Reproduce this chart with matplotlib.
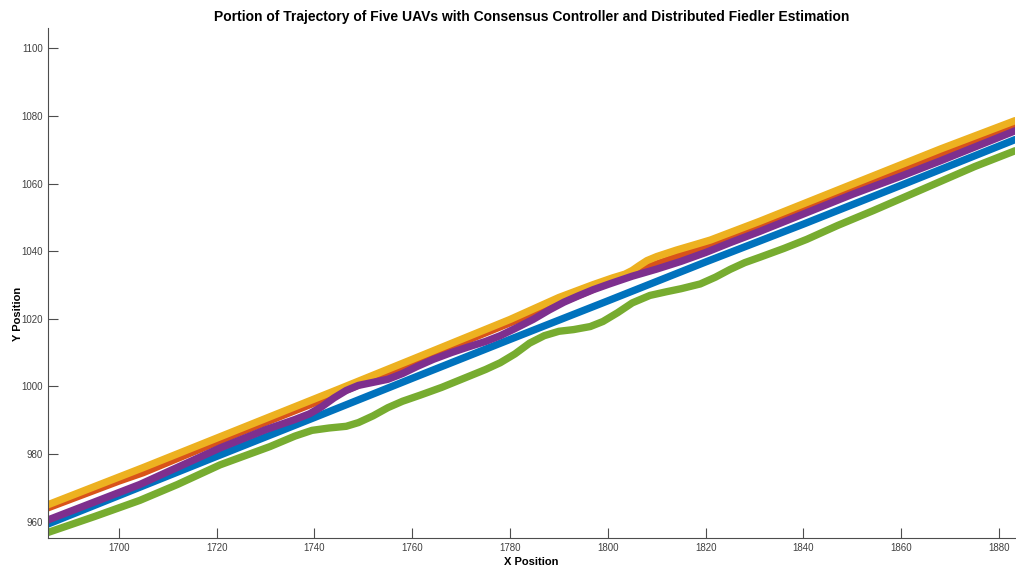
import matplotlib
matplotlib.use("Agg")
import matplotlib.pyplot as plt

plt.rcParams["font.family"] = ["Liberation Sans", "DejaVu Sans"]

# UAV trajectories
uav1_x = [1685.5, 1700, 1720, 1740, 1760, 1780, 1800, 1820, 1840, 1860, 1883.3]
uav1_y = [959.3, 967.7, 979.3, 990.8, 1002.4, 1013.9, 1025.3, 1036.8, 1048.0, 1059.5, 1073.0]

uav2_x = [1685.5, 1700, 1705, 1725, 1745, 1760, 1780, 1795, 1800, 1805, 1810, 1815, 1820, 1825, 1831,
          1850, 1868, 1883.3]
uav2_y = [964.1, 972.0, 974.5, 986.5, 998.0, 1007.0, 1018.8, 1027.5, 1030.6, 1033.5, 1036.2, 1038.8,
          1041.4, 1044.2, 1047.6, 1058.5, 1068.4, 1077.1]

uav3_x = [1685.5, 1705, 1725, 1745, 1760, 1780, 1790, 1797, 1801, 1803.5, 1805, 1806.5, 1808, 1810,
          1814, 1818, 1821, 1825, 1831, 1850, 1868, 1883.3]
uav3_y = [965.0, 976.0, 987.6, 999.2, 1008.0, 1019.8, 1026.3, 1030.1, 1032.1, 1033.2, 1034.3, 1035.8,
          1037.2, 1038.4, 1040.3, 1042.0, 1043.3, 1045.5, 1048.8, 1059.8, 1070.2, 1078.6]

uav4_x = [1685.5, 1704.3, 1720.7, 1730, 1736, 1739, 1741.5, 1744, 1746.5, 1749, 1752, 1755, 1758, 1761,
          1764.3, 1768, 1771.1, 1775, 1778, 1781, 1784.7, 1788, 1791, 1794, 1797, 1800.5, 1805, 1810,
          1815, 1820, 1825, 1831, 1840, 1850, 1860, 1868, 1883.3]
uav4_y = [960.5, 971.0, 981.8, 987.2, 990.2, 991.9, 994.0, 996.6, 998.8, 1000.3, 1001.2, 1002.1, 1003.8,
          1005.9, 1008.0, 1010.0, 1011.5, 1013.3, 1015.0, 1017.1, 1019.8, 1022.6, 1024.9, 1026.8, 1028.6,
          1030.4, 1032.6, 1034.7, 1037.0, 1039.6, 1042.5, 1045.8, 1051.0, 1056.8, 1062.2, 1066.7, 1075.6]

uav5_x = [1685.5, 1695, 1704.3, 1712, 1720.7, 1730.9, 1736, 1739.5, 1743, 1746.5, 1749, 1752, 1755, 1758,
          1761.6, 1766, 1771.1, 1775, 1778, 1781, 1784, 1787, 1790, 1793, 1796.4, 1799, 1802, 1805,
          1808.6, 1812, 1815, 1818.9, 1822, 1825, 1828, 1831.1, 1836, 1840.7, 1847, 1854.3, 1861, 1868,
          1875, 1883.3]
uav5_y = [956.8, 961.5, 966.3, 971.0, 976.8, 982.2, 985.3, 987.0, 987.7, 988.2, 989.3, 991.3, 993.7,
          995.6, 997.4, 999.7, 1002.7, 1005.0, 1007.0, 1009.6, 1012.8, 1015.0, 1016.3, 1016.8, 1017.7,
          1019.2, 1021.8, 1024.7, 1026.9, 1028.0, 1028.9, 1030.3, 1032.3, 1034.6, 1036.6, 1038.2, 1040.8,
          1043.5, 1047.6, 1052.0, 1056.2, 1060.6, 1065.0, 1069.7]

colors = ["#0072BD", "#D95319", "#EDB120", "#7E2F8E", "#77AC30"]

x_ticks = list(range(1700, 1881, 20))
y_ticks = list(range(960, 1101, 20))

fig = plt.figure(figsize=(10.16, 5.71), dpi=100)
ax = fig.add_axes([0.0472, 0.058, 0.952, 0.893])

trajs = [(uav1_x, uav1_y), (uav2_x, uav2_y), (uav3_x, uav3_y), (uav4_x, uav4_y), (uav5_x, uav5_y)]
for (xs, ys), c in zip(trajs, colors):
    ax.plot(xs, ys, color=c, linewidth=5.3, solid_capstyle="round", solid_joinstyle="round")

ax.set_xlim(1685.5, 1883.3)
ax.set_ylim(955.2, 1106)
ax.set_xticks(x_ticks)
ax.set_yticks(y_ticks)

for side in ["top", "right"]:
    ax.spines[side].set_visible(False)
for side in ["left", "bottom"]:
    ax.spines[side].set_color("#4d4d4d")
    ax.spines[side].set_linewidth(0.8)

ax.tick_params(axis="both", direction="in", length=7, width=0.8, color="#4d4d4d",
               labelsize=7, labelcolor="#404040")

ax.set_title("Portion of Trajectory of Five UAVs with Consensus Controller and Distributed Fiedler Estimation",
             fontsize=10, fontweight="bold", pad=5)
ax.set_xlabel("X Position", fontsize=8, fontweight="bold", labelpad=3)
ax.set_ylabel("Y Position", fontsize=8, fontweight="bold")
ax.yaxis.set_label_coords(-0.026, 0.44)

fig.savefig("out.png", dpi=100)
